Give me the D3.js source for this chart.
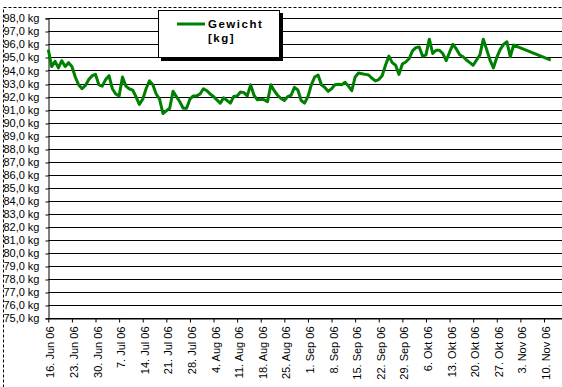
<!DOCTYPE html>
<html>
<head>
<meta charset="utf-8">
<script src="https://cdn.jsdelivr.net/npm/d3@7"></script>
<style>
  body { margin: 0; background: #fff; }
  text { font-family: "Liberation Sans", Arial, sans-serif; }
</style>
</head>
<body>
<div id="chart"></div>
<script>
// --- Data ---
const dates = [
  "2006-06-16","2006-06-17","2006-06-18","2006-06-19","2006-06-20","2006-06-21","2006-06-22","2006-06-23",
  "2006-06-24","2006-06-25","2006-06-26","2006-06-27","2006-06-28","2006-06-29","2006-06-30",
  "2006-07-01","2006-07-02","2006-07-03","2006-07-04","2006-07-05","2006-07-06","2006-07-07","2006-07-08",
  "2006-07-09","2006-07-10","2006-07-11","2006-07-12","2006-07-13","2006-07-14","2006-07-15","2006-07-16",
  "2006-07-17","2006-07-18","2006-07-19","2006-07-20","2006-07-21","2006-07-22","2006-07-23","2006-07-24",
  "2006-07-25","2006-07-26","2006-07-27","2006-07-28","2006-07-29","2006-07-30","2006-07-31",
  "2006-08-01","2006-08-02","2006-08-03","2006-08-04","2006-08-05","2006-08-06","2006-08-07","2006-08-08",
  "2006-08-09","2006-08-10","2006-08-11","2006-08-12","2006-08-13","2006-08-14","2006-08-15","2006-08-16",
  "2006-08-17","2006-08-18","2006-08-19","2006-08-20","2006-08-21","2006-08-22","2006-08-23","2006-08-24",
  "2006-08-25","2006-08-26","2006-08-27","2006-08-28","2006-08-29","2006-08-30","2006-08-31",
  "2006-09-01","2006-09-02","2006-09-03","2006-09-04","2006-09-05","2006-09-06","2006-09-07","2006-09-08",
  "2006-09-09","2006-09-10","2006-09-11","2006-09-12","2006-09-13","2006-09-14","2006-09-15","2006-09-16",
  "2006-09-17","2006-09-18","2006-09-19","2006-09-20","2006-09-21","2006-09-22","2006-09-23","2006-09-24",
  "2006-09-25","2006-09-26","2006-09-27","2006-09-28","2006-09-29","2006-09-30",
  "2006-10-01","2006-10-02","2006-10-03","2006-10-04","2006-10-05","2006-10-06","2006-10-07","2006-10-08",
  "2006-10-09","2006-10-10","2006-10-11","2006-10-12","2006-10-13","2006-10-14","2006-10-15","2006-10-16",
  "2006-10-17","2006-10-18","2006-10-19","2006-10-20","2006-10-21","2006-10-22","2006-10-23","2006-10-24",
  "2006-10-25","2006-10-26","2006-10-27","2006-10-28","2006-10-29","2006-10-30","2006-10-31",
  "2006-11-01","2006-11-12"
];

const gewicht = [
  95.6, 94.3, 94.7, 94.2, 94.75, 94.3, 94.6, 94.3,
  93.5, 92.9, 92.6, 92.85, 93.3, 93.6, 93.7,
  92.9, 92.8, 93.3, 93.6, 92.6, 92.2, 92.05, 93.5,
  92.8, 92.6, 92.5, 92.0, 91.4, 91.8, 92.6, 93.2,
  92.9, 92.2, 91.8, 90.7, 90.9, 91.1, 92.4, 92.0,
  91.6, 91.1, 91.1, 91.8, 92.05, 92.05, 92.2,
  92.6, 92.45, 92.2, 92.0, 91.75, 91.5, 91.9, 91.7,
  91.5, 92.0, 92.05, 92.35, 92.3, 92.05, 92.9, 92.1,
  91.75, 91.8, 91.75, 91.6, 92.9, 92.45, 92.1, 91.85,
  91.7, 92.0, 92.1, 92.7, 92.5, 91.7, 91.5,
  92.0, 92.9, 93.5, 93.65, 92.9, 92.7, 92.4, 92.6,
  92.9, 92.95, 92.9, 93.1, 92.8, 92.45, 93.5, 93.8,
  93.75, 93.7, 93.65, 93.4, 93.2, 93.3, 93.6, 94.4,
  95.1, 94.6, 94.4, 93.7, 94.5, 94.65,
  94.9, 95.5, 95.75, 95.8, 95.1, 95.2, 96.4, 95.3,
  95.55, 95.55, 95.3, 94.75, 95.4, 96.0, 95.65, 95.2,
  95.05, 94.8, 94.6, 94.4, 94.8, 95.2, 96.4, 95.6,
  94.8, 94.2, 95.0, 95.6, 96.0, 96.2, 95.05,
  95.95, 94.8
];

const tickDates = [
  "2006-06-16","2006-06-23","2006-06-30","2006-07-07","2006-07-14","2006-07-21","2006-07-28",
  "2006-08-04","2006-08-11","2006-08-18","2006-08-25","2006-09-01","2006-09-08","2006-09-15",
  "2006-09-22","2006-09-29","2006-10-06","2006-10-13","2006-10-20","2006-10-27","2006-11-03","2006-11-10"
];
const monate = ["Jan","Feb","Mrz","Apr","Mai","Jun","Jul","Aug","Sep","Okt","Nov","Dez"];
const yTicks = d3.range(75, 99, 1);

// --- Setup ---
const W = 562, H = 387;
const parse = d3.utcParse("%Y-%m-%d");
const points = dates.map((d, i) => ({date: parse(d), value: gewicht[i]}));

const svg = d3.select("#chart").append("svg")
  .attr("width", W).attr("height", H);

svg.append("rect").attr("width", W).attr("height", H).attr("fill", "#fff");

// dashed chart-area border
svg.append("rect")
  .attr("x", 3.5).attr("y", 7.5)
  .attr("width", 700).attr("height", 500)
  .attr("fill", "none")
  .attr("stroke", "#000")
  .attr("stroke-dasharray", "3,2");

const x = d3.scaleUtc()
  .domain([parse("2006-06-16"), parse("2006-11-17")])
  .range([48.3, 48.3 + 154 * 3.372]);

const y = d3.scaleLinear().domain([75, 98]).range([318.3, 18.3]);

// --- Gridlines ---
svg.append("g").selectAll("line")
  .data(yTicks)
  .join("line")
  .attr("x1", x.range()[0]).attr("x2", x.range()[1])
  .attr("y1", d => Math.round(y(d)) + 0.5)
  .attr("y2", d => Math.round(y(d)) + 0.5)
  .attr("stroke", "#000");

// --- Y axis ---
const yAxis = svg.append("g")
  .attr("transform", `translate(${Math.round(x.range()[0]) + 0.5},0)`)
  .call(d3.axisLeft(y).tickValues(yTicks).tickSize(3).tickPadding(6)
    .tickFormat(d => d.toFixed(1).replace(".", ",") + " kg"));
yAxis.select(".domain").attr("stroke", "#000");
yAxis.selectAll(".tick line").attr("stroke", "#000")
  .attr("transform", d => `translate(0,${Math.round(y(d)) + 0.5 - y(d)})`);
yAxis.selectAll(".tick text")
  .attr("font-size", 11).attr("fill", "#000")
  .attr("font-family", "'Liberation Sans', Arial, sans-serif");

// --- X axis ---
const xAxis = svg.append("g")
  .attr("transform", `translate(0,${Math.round(y(75)) + 0.5})`)
  .call(d3.axisBottom(x).tickValues(tickDates.map(parse)).tickSize(4).tickSizeOuter(0)
    .tickFormat(d => `${d.getUTCDate()}. ${monate[d.getUTCMonth()]} 06`));
xAxis.select(".domain").attr("stroke", "#000");
xAxis.selectAll(".tick line").attr("stroke", "#000");
xAxis.selectAll(".tick text")
  .attr("font-size", 11).attr("fill", "#000")
  .attr("font-family", "'Liberation Sans', Arial, sans-serif")
  .attr("text-anchor", "end")
  .attr("transform", "rotate(-90)")
  .attr("x", -8).attr("y", 0).attr("dy", "0.5em")
  .attr("dx", 0);

// --- Line ---
const line = d3.line().x(d => x(d.date)).y(d => y(d.value));
svg.append("path")
  .datum(points)
  .attr("d", line)
  .attr("fill", "none")
  .attr("stroke", "#008000")
  .attr("stroke-width", 3)
  .attr("stroke-linejoin", "round");

// --- Legend ---
const legend = svg.append("g");
legend.append("rect")
  .attr("x", 161).attr("y", 13).attr("width", 122).attr("height", 48)
  .attr("fill", "#000");
legend.append("rect")
  .attr("x", 158.5).attr("y", 10.5).attr("width", 121).attr("height", 47)
  .attr("fill", "#fff").attr("stroke", "#000");
legend.append("line")
  .attr("x1", 177).attr("x2", 205).attr("y1", 24).attr("y2", 24)
  .attr("stroke", "#008000").attr("stroke-width", 3);
legend.append("text")
  .attr("x", 208).attr("y", 28)
  .attr("font-size", 11.5).attr("font-weight", "bold").attr("letter-spacing", 1.5)
  .text("Gewicht");
legend.append("text")
  .attr("x", 208).attr("y", 41.5)
  .attr("font-size", 11.5).attr("font-weight", "bold").attr("letter-spacing", 1.5)
  .text("[kg]");
</script>
</body>
</html>
